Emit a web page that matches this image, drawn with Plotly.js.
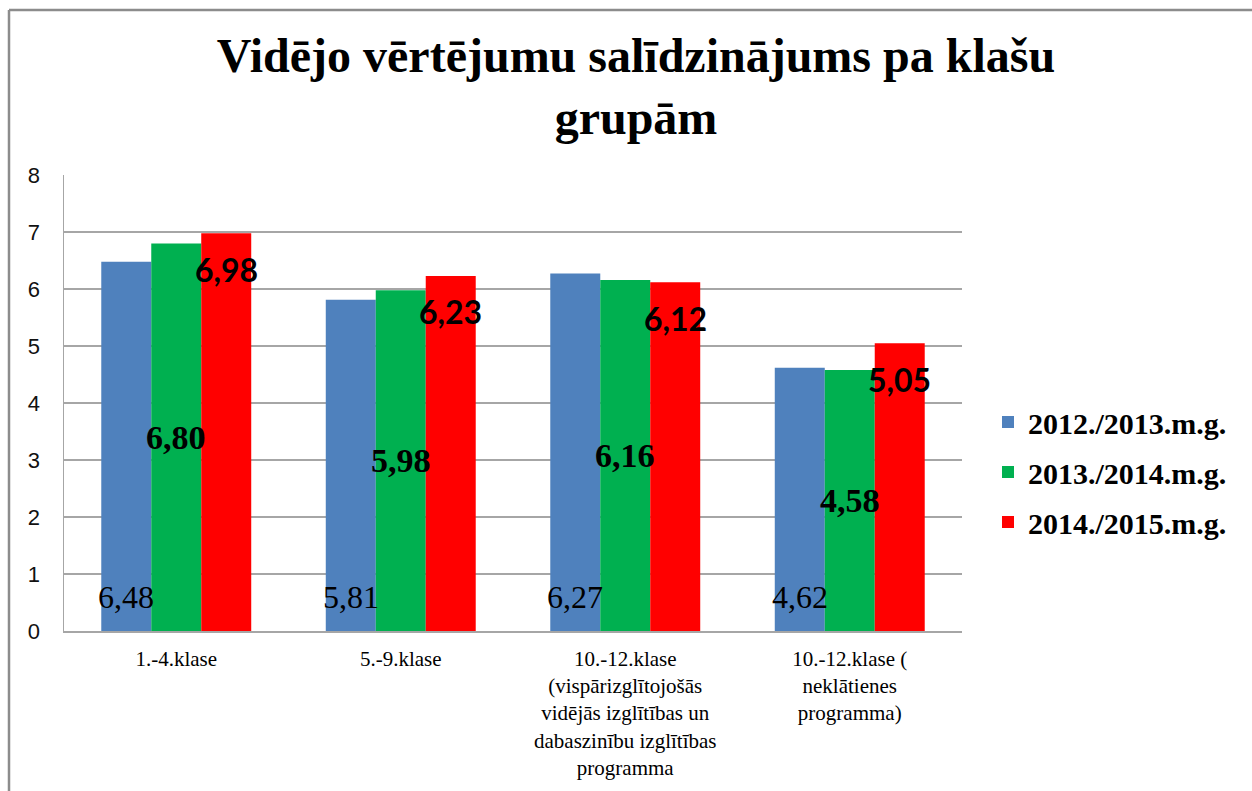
<!DOCTYPE html>
<html><head><meta charset="utf-8">
<script src="https://cdn.plot.ly/plotly-3.0.1.min.js"></script>
<style>html,body{margin:0;padding:0;background:#fff}#chart{width:1252px;height:791px}</style>
</head><body><div id="chart"></div>
<script>
const categories = [
  "1.-4.klase",
  "5.-9.klase",
  "10.-12.klase<br>(vispārizglītojošās<br>vidējās izglītības un<br>dabaszinību izglītības<br>programma",
  "10.-12.klase (<br>neklātienes<br>programma)"
];
const seriesNames = ["2012./2013.m.g.", "2013./2014.m.g.", "2014./2015.m.g."];
const values2012 = [6.48, 5.81, 6.27, 4.62];
const values2013 = [6.80, 5.98, 6.16, 4.58];
const values2014 = [6.98, 6.23, 6.12, 5.05];
const yTickVals = [0, 1, 2, 3, 4, 5, 6, 7, 8];
const titleText = "Vidējo vērtējumu salīdzinājums pa klašu<br>grupām";

const SERIF = 'Liberation Serif';
const SANS = 'Liberation Sans';
const colors = ["#4F81BD", "#00B050", "#FF0000"];
const allValues = [values2012, values2013, values2014];
const BARGAP = 0.332;
const fmt = v => v.toFixed(2).replace('.', ',');

const traces = allValues.map((vals, s) => ({
  type: 'bar',
  name: seriesNames[s],
  x: categories,
  y: vals,
  marker: {color: colors[s], line: {width: 0}},
  legendgroup: 'g' + s,
  hoverinfo: 'skip'
}));

const labelStyles = [
  {font: {family: SERIF, size: 32, color: '#000'}, yOf: v => 0, yshift: 34},
  {font: {family: SERIF, size: 34, color: '#000', weight: 'bold'}, yOf: v => v / 2, yshift: 0},
  {font: {family: 'Lato', size: 32, color: '#000', weight: 'bold'}, yOf: v => v, yshift: -36}
];
const w = (1 - BARGAP) / 3;
const annotations = [];
allValues.forEach((vals, s) => {
  vals.forEach((v, i) => {
    annotations.push({
      x: i + (s - 1) * w, xref: 'x',
      y: labelStyles[s].yOf(v), yref: 'y',
      yshift: labelStyles[s].yshift,
      text: fmt(v),
      showarrow: false,
      xanchor: 'center', yanchor: 'middle',
      font: labelStyles[s].font
    });
  });
});

const L = 64, R = 962, T = 175, B = 631, W = 1252, H = 791;
const px2x = px => (px - L) / (R - L);
const py2y = py => (B - py) / (B - T);

const layout = {
  width: W, height: H,
  margin: {l: L, r: W - R, t: T, b: H - B, pad: 0},
  paper_bgcolor: '#ffffff',
  plot_bgcolor: '#ffffff',
  barmode: 'group',
  bargap: BARGAP,
  bargroupgap: 0,
  title: {
    text: '<b>' + titleText + '</b>',
    font: {family: SERIF, size: 48, color: '#000'},
    x: 636 / W, xref: 'container', xanchor: 'center',
    y: 1 - 72 / H, yref: 'container', yanchor: 'middle'
  },
  xaxis: {
    type: 'category',
    showline: true, linecolor: '#a6a6a6', linewidth: 1.5,
    showgrid: false, ticks: '',
    tickfont: {family: SERIF, size: 21, color: '#000'},
    tickangle: 0,
    ticklabelstandoff: 8
  },
  yaxis: {
    range: [0, 8],
    tickvals: yTickVals,
    showline: true, linecolor: '#a6a6a6', linewidth: 1.5,
    showgrid: true, gridcolor: '#a6a6a6', gridwidth: 1.5,
    zeroline: false, ticks: '',
    tickfont: {family: SANS, size: 22, color: '#111'},
    ticklabelstandoff: 18
  },
  legend: {
    x: 988 / W, xref: 'container', xanchor: 'left',
    y: 1 - 472 / H, yref: 'container', yanchor: 'middle',
    font: {family: SERIF, size: 30, color: '#000', weight: 'bold'},
    traceorder: 'grouped',
    tracegroupgap: 8,
    bgcolor: 'rgba(0,0,0,0)'
  },
  annotations: annotations,
  shapes: [
    {type: 'line', xref: 'paper', yref: 'paper', x0: px2x(9), x1: px2x(1260), y0: py2y(10), y1: py2y(10), line: {color: '#8c8c8c', width: 2.5}, layer: 'below'},
    {type: 'line', xref: 'paper', yref: 'paper', x0: px2x(9), x1: px2x(9), y0: py2y(10), y1: py2y(800), line: {color: '#8c8c8c', width: 2.5}, layer: 'below'}
  ]
};

Plotly.newPlot('chart', traces, layout, {displayModeBar: false, staticPlot: true});
</script>
</body></html>
